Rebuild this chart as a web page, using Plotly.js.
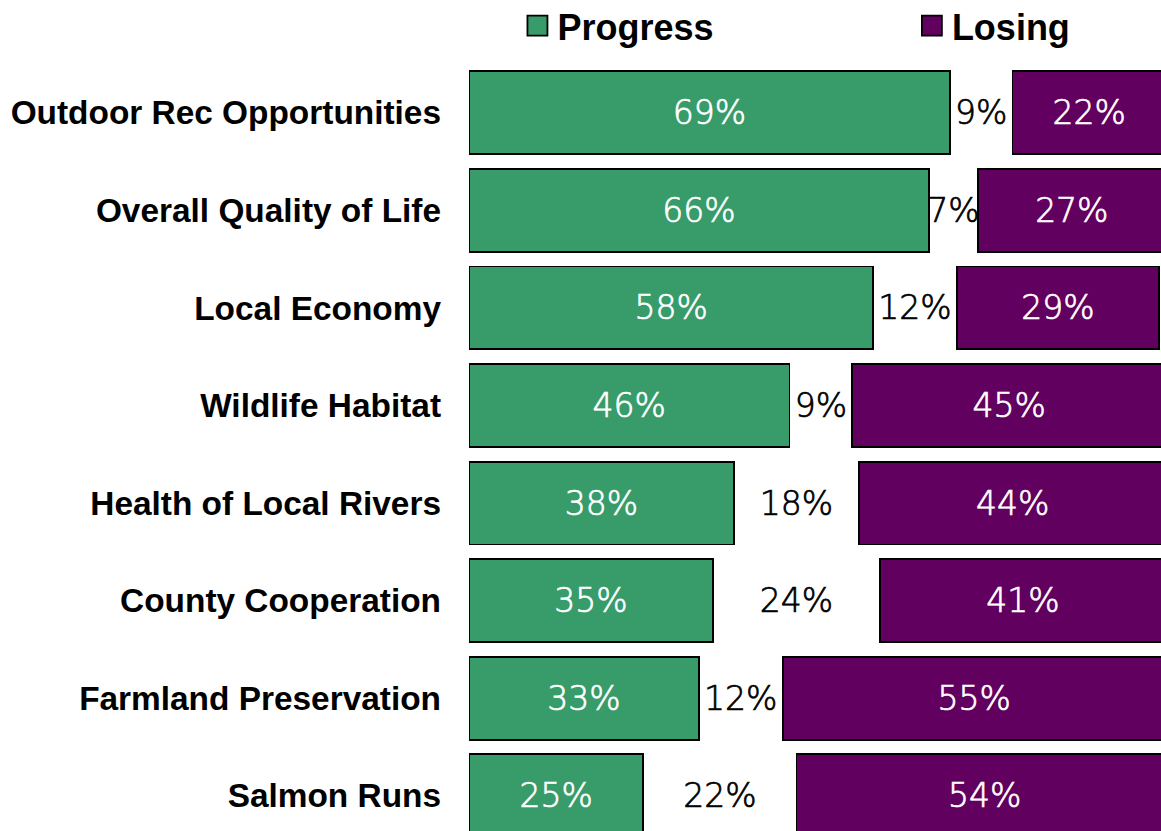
<!DOCTYPE html>
<html>
<head>
<meta charset="utf-8">
<script src="https://cdn.plot.ly/plotly-3.0.1.min.js"></script>
<style>
html,body{margin:0;padding:0;background:#fff;}
#chart{width:1161px;height:831px;}
</style>
</head>
<body>
<div id="chart"></div>
<script>
const categories = [
  "Outdoor Rec Opportunities",
  "Overall Quality of Life",
  "Local Economy",
  "Wildlife Habitat",
  "Health of Local Rivers",
  "County Cooperation",
  "Farmland Preservation",
  "Salmon Runs"
];
const progress = [69, 66, 58, 46, 38, 35, 33, 25];
const neutral  = [9, 7, 12, 9, 18, 24, 12, 22];
const losing   = [22, 27, 29, 45, 44, 41, 55, 54];

const GREEN = "#379b6a";
const PURPLE = "#620060";
const valueFont = {family: "'DejaVu Sans', sans-serif", size: 33, weight: 300};
const legendFont = {family: "'Liberation Sans', Arial, sans-serif", size: 36, color: "#000", weight: "bold"};

const common = {
  type: "bar",
  orientation: "h",
  y: categories,
  texttemplate: "%{x}%",
  textposition: "inside",
  insidetextanchor: "middle",
  textangle: 0,
  constraintext: "none",
  hoverinfo: "skip"
};

const traces = [
  Object.assign({}, common, {
    name: "Progress", x: progress, legend: "legend",
    marker: {color: GREEN, line: {color: "#000", width: 1.8}},
    insidetextfont: Object.assign({color: "#fff"}, valueFont)
  }),
  Object.assign({}, common, {
    name: "Neutral", x: neutral, showlegend: false,
    marker: {color: "rgba(255,255,255,0)", line: {width: 0}},
    insidetextfont: Object.assign({color: "#000"}, valueFont)
  }),
  Object.assign({}, common, {
    name: "Losing", x: losing, legend: "legend2",
    marker: {color: PURPLE, line: {color: "#000", width: 1.8}},
    insidetextfont: Object.assign({color: "#fff"}, valueFont)
  })
];

const layout = {
  width: 1161, height: 831,
  margin: {l: 469, r: 0, t: 64, b: 0, pad: 0, autoexpand: false},
  barmode: "stack",
  bargap: 0.15,
  paper_bgcolor: "#fff",
  plot_bgcolor: "#fff",
  showlegend: true,
  legend: {
    orientation: "h",
    x: 0.07, xanchor: "left",
    y: 1.05, yanchor: "middle",
    font: legendFont,
    bgcolor: "rgba(0,0,0,0)"
  },
  legend2: {
    orientation: "h",
    x: 0.640, xanchor: "left",
    y: 1.05, yanchor: "middle",
    font: legendFont,
    bgcolor: "rgba(0,0,0,0)"
  },
  xaxis: {
    range: [0, 99.3],
    visible: false,
    showgrid: false, zeroline: false, fixedrange: true
  },
  yaxis: {
    type: "category",
    range: [7.361, -0.5],
    showgrid: false, zeroline: false, showline: false,
    ticks: "",
    ticklabelstandoff: 27,
    tickfont: {family: "'Liberation Sans', Arial, sans-serif", size: 33.4, color: "#000", weight: "bold"},
    fixedrange: true
  }
};

Plotly.newPlot("chart", traces, layout, {displayModeBar: false, staticPlot: true}).then(function(gd){
  document.querySelectorAll("#chart .legendpoints path").forEach(function(p){
    p.setAttribute("d", "M10,10H-10V-10H10Z");
  });
  document.querySelectorAll("#chart text.bartext").forEach(function(t){
    var f = t.style.fill || "#000";
    t.style.stroke = f;
    t.style.strokeWidth = "0.7px";
  });
});
</script>
</body>
</html>
